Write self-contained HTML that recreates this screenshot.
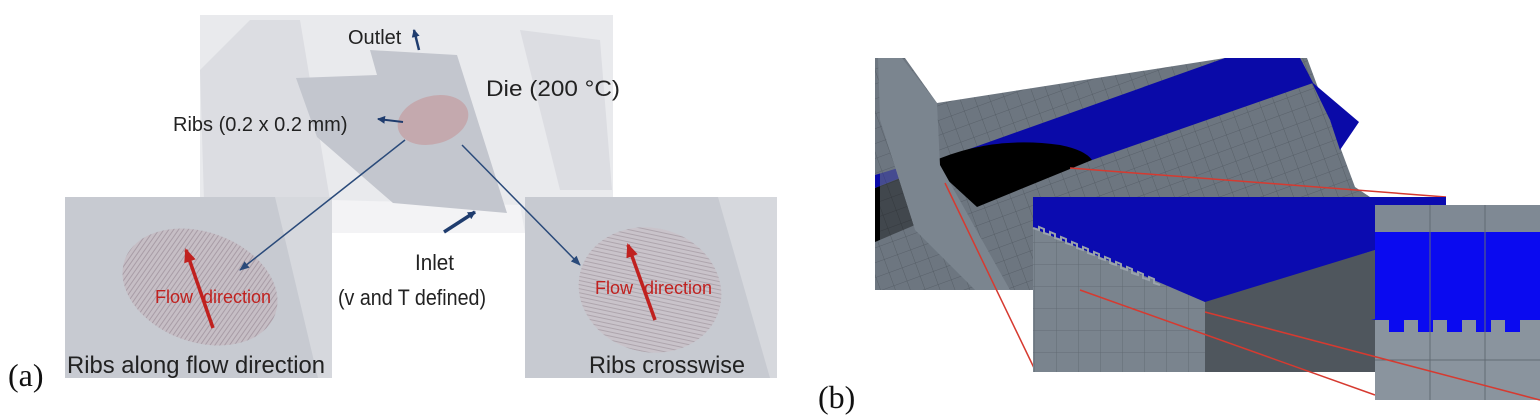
<!DOCTYPE html>
<html><head><meta charset="utf-8"><style>
html,body{margin:0;padding:0;background:#fff;}
svg{display:block;}
text{font-family:"Liberation Sans",Arial,sans-serif;}
</style></head><body>
<svg width="1540" height="416" viewBox="0 0 1540 416" xmlns="http://www.w3.org/2000/svg">
<defs>
<pattern id="vl" width="4" height="4" patternUnits="userSpaceOnUse" patternTransform="rotate(15)">
<rect width="4" height="4" fill="#c6bec5"/><line x1="1" y1="0" x2="1" y2="4" stroke="#a89ca6" stroke-width="1"/></pattern>
<pattern id="hl" width="4" height="4" patternUnits="userSpaceOnUse" patternTransform="rotate(-3)">
<rect width="4" height="4" fill="#c9c3ca"/><line x1="0" y1="1" x2="4" y2="1" stroke="#aea5ad" stroke-width="1"/></pattern>
<pattern id="grid" width="14" height="14" patternUnits="userSpaceOnUse" patternTransform="rotate(-20)">
<rect width="14" height="14" fill="#6d7680"/><path d="M0 0H14M0 0V14" stroke="#515961" stroke-width="0.8"/></pattern>
<pattern id="grid2" width="22" height="22" patternUnits="userSpaceOnUse">
<rect width="22" height="22" fill="#7a848e"/><path d="M0 0H22M0 0V22" stroke="#5c656e" stroke-width="0.8"/></pattern>
<marker id="ah" markerUnits="userSpaceOnUse" markerWidth="10" markerHeight="10" refX="9" refY="5" orient="auto"><path d="M0 1L10 5L0 9z" fill="#2a4a7a"/></marker>
<marker id="ahs" markerUnits="userSpaceOnUse" markerWidth="8" markerHeight="8" refX="7" refY="4" orient="auto"><path d="M0 0L8 4L0 8z" fill="#1f3c6e"/></marker>
<marker id="rh" markerUnits="userSpaceOnUse" markerWidth="14" markerHeight="12" refX="12" refY="6" orient="auto"><path d="M0 0L14 6L0 12z" fill="#c0211f"/></marker>
</defs>

<!-- (a) die background -->
<rect x="200" y="15" width="413" height="218" fill="#e9eaed"/>
<polygon points="200,70 250,20 300,20 330,200 250,233 205,233" fill="#dcdde2"/>
<polygon points="520,30 600,40 612,190 560,190" fill="#dcdde2"/>
<polygon points="332,200 520,205 525,233 332,233" fill="#f3f3f5"/>
<!-- plate -->
<polygon points="296,78 377,75 370,50 457,55 507,213 393,203 317,137" fill="#c3c6ce"/>
<ellipse cx="433" cy="120" rx="36" ry="24" transform="rotate(-15 433 120)" fill="#c4a9ae"/>
<text x="348" y="44" font-size="20" fill="#222">Outlet</text>
<line x1="419" y1="50" x2="414" y2="30" stroke="#1f3c6e" stroke-width="2.5" marker-end="url(#ahs)"/>
<text x="486" y="96" font-size="22" fill="#222" textLength="134" lengthAdjust="spacingAndGlyphs">Die (200 °C)</text>
<text x="173" y="131" font-size="20" fill="#222">Ribs (0.2 x 0.2 mm)</text>
<line x1="403" y1="122" x2="378" y2="119" stroke="#1f3c6e" stroke-width="2" marker-end="url(#ahs)"/>
<line x1="444" y1="232" x2="475" y2="212" stroke="#1f3c6e" stroke-width="3.5" marker-end="url(#ahs)"/>
<text x="415" y="270" font-size="22" fill="#222" textLength="39" lengthAdjust="spacingAndGlyphs">Inlet</text>
<text x="338" y="305" font-size="22" fill="#222" textLength="148" lengthAdjust="spacingAndGlyphs">(v and T defined)</text>

<!-- left inset -->
<rect x="65" y="197" width="267" height="181" fill="#c7cad1"/>
<polygon points="275,197 332,197 332,378 318,378" fill="#d6d8dd"/>
<ellipse cx="200" cy="287" rx="80" ry="55" transform="rotate(20 200 287)" fill="url(#vl)"/>
<line x1="213" y1="328" x2="186" y2="250" stroke="#c0211f" stroke-width="3.5" marker-end="url(#rh)"/>
<text x="155" y="303" font-size="18" fill="#c0211f">Flow</text>
<text x="203" y="303" font-size="18" fill="#c0211f">direction</text>
<text x="67" y="373" font-size="24" fill="#222" textLength="258" lengthAdjust="spacingAndGlyphs">Ribs along flow direction</text>

<!-- right inset -->
<rect x="525" y="197" width="252" height="181" fill="#c7cad1"/>
<polygon points="718,197 777,197 777,378 770,378" fill="#d6d8dd"/>
<ellipse cx="650" cy="290" rx="72" ry="62" transform="rotate(15 650 290)" fill="url(#hl)"/>
<line x1="655" y1="320" x2="628" y2="245" stroke="#c0211f" stroke-width="3.5" marker-end="url(#rh)"/>
<text x="595" y="294" font-size="18" fill="#c0211f">Flow</text>
<text x="644" y="294" font-size="18" fill="#c0211f">direction</text>
<text x="589" y="373" font-size="24" fill="#222" textLength="156" lengthAdjust="spacingAndGlyphs">Ribs crosswise</text>

<!-- connector arrows -->
<line x1="405" y1="140" x2="240" y2="270" stroke="#2a4a7a" stroke-width="1.5" marker-end="url(#ah)"/>
<line x1="462" y1="145" x2="580" y2="265" stroke="#2a4a7a" stroke-width="1.5" marker-end="url(#ah)"/>

<text x="8" y="386" font-size="32" fill="#111" style="font-family:'Liberation Serif',serif">(a)</text>

<!-- (b) top image -->
<polygon points="875,58 905,58 937,103 1225,58 1307,58 1355,187 1370,197 1033,197 1033,290 875,290" fill="url(#grid)"/>
<!-- blue band -->
<polygon points="930,163 1225,58 1300,58 1313,83 1092,160" fill="#0a0aa8"/>
<polygon points="1300,58 1313,83 1359,122 1340,150 1330,120" fill="#0a0aa8"/>
<!-- black -->
<path d="M929,163 Q990,135 1060,145 Q1085,150 1092,160 L977,207 Z" fill="#000"/>
<polygon points="875,188 925,168 915,225 875,242" fill="#000"/>
<polygon points="875,175 925,160 925,168 875,188" fill="#0a0aa8"/>
<!-- slanted panel -->
<polygon points="878,58 902,58 937,103 940,165 1010,290 975,290 915,230 880,120" fill="#7b858f"/>
<polygon points="880,120 915,230 975,290 880,290" fill="url(#grid)" opacity="0.6"/>
<line x1="1070" y1="168" x2="1446" y2="197" stroke="#d63a30" stroke-width="1.5"/>
<line x1="945" y1="183" x2="1035" y2="370" stroke="#d63a30" stroke-width="1.5"/>
<!-- middle inset -->
<rect x="1033" y="197" width="342" height="175" fill="#86909a"/>
<polygon points="1033,228 1205,300 1205,372 1033,372" fill="url(#grid2)"/>
<polygon points="1205,300 1375,250 1375,372 1205,372" fill="#4f565d"/>
<polygon points="1033,197 1446,197 1446,205 1375,250 1205,302 1033,228" fill="#0b0bb0"/>
<path d="M1033,228 l6,2 0,-3 5,2 0,4 6,2 0,-3 5,2 0,4 6,2 0,-3 5,2 0,4 6,2 0,-3 5,2 0,4 6,2 0,-3 5,2 0,4 6,2 0,-3 5,2 0,4 6,2 0,-3 5,2 0,4 6,2 0,-3 5,2 0,4 6,2 0,-3 5,2 0,4 6,2 0,-3 5,2 0,4 6,2 0,-3 5,2 0,4 6,2" fill="none" stroke="#9aa3ac" stroke-width="2"/>
<line x1="1080" y1="290" x2="1375" y2="395" stroke="#d63a30" stroke-width="1.5"/>
<!-- right inset -->
<rect x="1375" y="205" width="165" height="195" fill="#8a949e"/>
<rect x="1375" y="205" width="165" height="27" fill="#7f8994"/>
<rect x="1375" y="232" width="165" height="88" fill="#0a0af0"/>
<path d="M1375,320 h14 v12 h15 v-12 h14 v12 h15 v-12 h14 v12 h15 v-12 h14 v12 h15 v-12 h14 v12 h15 v-12 h16 v-1 h-165z" fill="#0a0af0"/>
<path d="M1375,360 H1540 M1430,205 V400 M1485,205 V400" stroke="#626b74" stroke-width="1"/>
<line x1="1205" y1="312" x2="1540" y2="400" stroke="#d63a30" stroke-width="1.5"/>
<text x="818" y="408" font-size="32" fill="#111" style="font-family:'Liberation Serif',serif">(b)</text>
</svg>
</body></html>
